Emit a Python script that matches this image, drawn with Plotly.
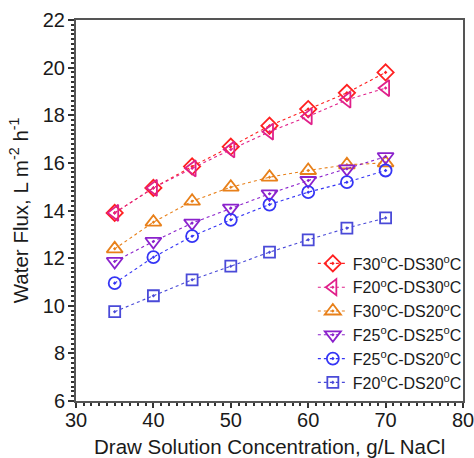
import plotly.graph_objects as go

conc = [35, 40, 45, 50, 55, 60, 65, 70]

f30_ds30 = [13.9, 14.95, 15.85, 16.68, 17.56, 18.26, 18.94, 19.8]
f20_ds30 = [13.9, 14.95, 15.77, 16.56, 17.31, 17.95, 18.65, 19.14]
f30_ds20 = [12.39, 13.51, 14.39, 14.98, 15.4, 15.68, 15.92, 16.0]
f25_ds25 = [11.86, 12.7, 13.47, 14.1, 14.7, 15.26, 15.75, 16.26]
f25_ds20 = [10.95, 12.04, 12.92, 13.61, 14.25, 14.77, 15.19, 15.68]
f20_ds20 = [9.75, 10.42, 11.09, 11.66, 12.25, 12.77, 13.26, 13.69]

names = ["F30<sup>o</sup>C-DS30<sup>o</sup>C", "F20<sup>o</sup>C-DS30<sup>o</sup>C",
         "F30<sup>o</sup>C-DS20<sup>o</sup>C", "F25<sup>o</sup>C-DS25<sup>o</sup>C",
         "F25<sup>o</sup>C-DS20<sup>o</sup>C", "F20<sup>o</sup>C-DS20<sup>o</sup>C"]
series = [f30_ds30, f20_ds30, f30_ds20, f25_ds25, f25_ds20, f20_ds20]
symbols = ["diamond-open-dot", "triangle-left-open-dot", "triangle-up-open-dot",
           "triangle-down-open-dot", "circle-open-dot", "square-open-dot"]
sizes = [12.5, 14, 14, 14, 12, 11]
colors = ["#FF2020", "#E0208A", "#E8801A", "#8B22CC", "#3535F5", "#4A4AD8"]

x_title = "Draw Solution Concentration, g/L NaCl"
y_title = "Water Flux, L m<sup>-2</sup> h<sup>-1</sup>"

fig = go.Figure()
for n, s, sym, sz, c in zip(names, series, symbols, sizes, colors):
    fig.add_trace(go.Scatter(
        x=conc, y=s, name=n, mode="lines+markers",
        line=dict(color=c, width=1.1, dash="dot"),
        marker=dict(symbol=sym, size=sz, color=c, line=dict(width=1.8, color=c)),
    ))

font = "Liberation Sans, Arial, sans-serif"
fig.update_layout(
    width=474, height=458,
    margin=dict(l=76, r=11, t=20, b=57, autoexpand=False),
    paper_bgcolor="white", plot_bgcolor="white",
    font=dict(family=font, size=20, color="#1a1a1a"),
    showlegend=True,
    legend=dict(x=0.612, y=0.004, xanchor="left", yanchor="bottom",
                bgcolor="rgba(0,0,0,0)", font=dict(size=16), tracegroupgap=0),
    xaxis=dict(range=[30, 80], dtick=10, tick0=30, showgrid=False, zeroline=False,
               showline=True, linecolor="#555", linewidth=2, mirror=True,
               ticks="outside", ticklen=5, tickwidth=1.5, tickcolor="#333",
               tickfont=dict(size=20), ticklabelstandoff=-5, ticklabeloverflow="allow",
               minor=dict(dtick=1, ticks="outside", ticklen=3, tickcolor="#333", showgrid=False)),
    yaxis=dict(range=[6, 22], dtick=2, tick0=6, showgrid=False, zeroline=False,
               showline=True, linecolor="#555", linewidth=2, mirror=True,
               ticks="outside", ticklen=6, tickwidth=1.5, tickcolor="#333",
               tickfont=dict(size=20), ticklabelstandoff=-1, ticklabeloverflow="allow",
               minor=dict(dtick=0.2, ticks="outside", ticklen=3, tickcolor="#333", showgrid=False)),
    annotations=[
        dict(text=x_title, xref="paper", yref="paper", x=0.5, y=-0.12,
             xanchor="center", yanchor="middle", showarrow=False,
             font=dict(size=20.5, family=font, color="#1a1a1a")),
        dict(text=y_title, xref="paper", yref="paper", x=-0.148, y=0.5,
             xanchor="center", yanchor="middle", showarrow=False, textangle=-90,
             font=dict(size=20.5, family=font, color="#1a1a1a")),
    ],
)

fig.write_html("out.html", config={"displayModeBar": False})

with open("out.html", "r", encoding="utf-8") as fh:
    html = fh.read()
html = html.replace("<head>", "<head><style>html,body{margin:0;padding:0;overflow:hidden;}</style>", 1)
with open("out.html", "w", encoding="utf-8") as fh:
    fh.write(html)
